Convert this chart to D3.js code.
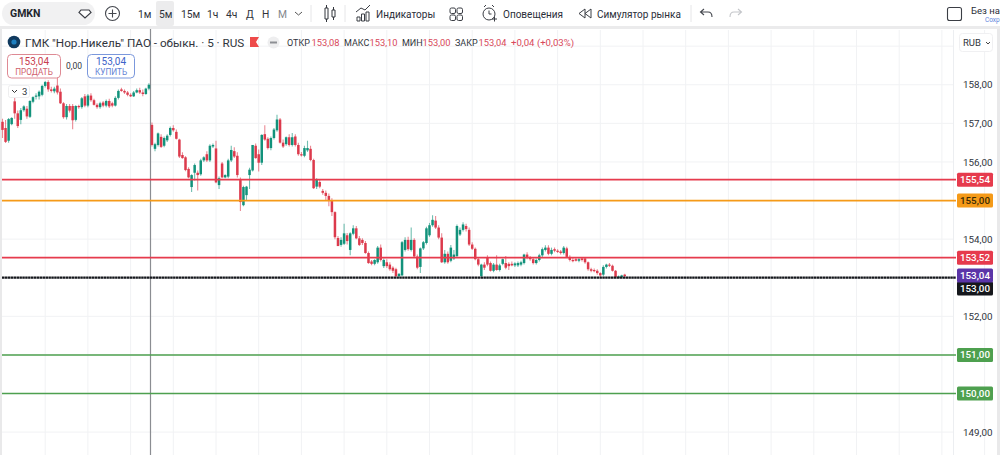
<!DOCTYPE html>
<html lang="ru">
<head>
<meta charset="utf-8">
<title>GMKN</title>
<script src="https://cdn.jsdelivr.net/npm/d3@7/dist/d3.min.js"></script>
<style>
html,body{margin:0;padding:0;background:#fff;overflow:hidden}
svg{display:block}
text{font-family:Roboto,"Open Sans",sans-serif;fill:#2a2e39}
</style>
</head>
<body>
<svg id="chart" width="1000" height="455"></svg>
<script>
// Candles per stretch of the session, each row: open, high, low, close
const candlesMorning = [
[157.04,157.12,156.62,156.83],[156.88,157.09,156.49,156.52],[156.55,157.14,156.50,157.11],[156.98,157.16,156.95,157.14],
[157.57,157.70,157.12,157.26],[157.26,157.33,156.88,156.93],[157.09,157.40,156.98,157.34],[157.34,157.47,157.30,157.44],
[157.38,157.45,157.12,157.18],[157.17,157.60,157.14,157.58],[157.56,157.70,157.52,157.68],[157.70,157.78,157.62,157.72],
[157.70,157.85,157.62,157.82],[157.74,158.00,157.70,157.97],[157.97,158.10,157.93,158.07],[158.07,158.12,157.82,157.88],
[157.88,157.95,157.80,157.84],[157.83,157.95,157.78,157.90],[157.98,158.20,157.75,157.80],[157.82,157.90,157.50,157.52],
[157.52,157.55,157.12,157.16],[157.16,157.50,157.10,157.45],[157.45,157.50,157.28,157.33],[157.45,157.50,156.85,157.08],
[157.09,157.47,157.05,157.45],[157.45,157.48,157.38,157.42],[157.42,157.68,157.38,157.65],[157.70,157.76,157.42,157.46],
[157.46,157.76,157.42,157.72],[157.72,157.78,157.56,157.60],[157.60,157.64,157.46,157.48],[157.48,157.52,157.38,157.42],
[157.42,157.56,157.38,157.52],[157.54,157.58,157.42,157.46],[157.46,157.62,157.42,157.58],[157.58,157.64,157.40,157.44],
[157.52,157.56,157.42,157.46],[157.46,157.70,157.44,157.66],[157.66,157.88,157.62,157.84],[157.88,157.92,157.82,157.84],
[157.84,157.88,157.76,157.80],[157.80,157.84,157.70,157.74],[157.74,157.78,157.68,157.70],[157.70,157.84,157.68,157.80],
[157.80,157.90,157.78,157.86],[157.86,157.92,157.76,157.80],[157.80,157.88,157.70,157.76],[157.76,157.92,157.74,157.90],
[157.90,158.04,157.86,158.00]
];
const candlesMidday = [
[156.96,157.02,156.40,156.44],[156.34,156.50,156.28,156.46],[156.44,156.76,156.40,156.74],[156.65,156.72,156.36,156.39],
[156.42,156.66,156.38,156.62],[156.56,156.72,156.52,156.68],[156.70,156.92,156.66,156.88],[156.88,156.95,156.78,156.82],
[156.78,156.84,156.58,156.60],[156.58,156.60,156.10,156.14],[156.18,156.25,156.08,156.10],[156.12,156.15,155.76,155.79],
[155.82,155.86,155.58,155.60],[155.35,155.68,155.22,155.66],[155.72,155.96,155.52,155.92],[155.72,155.78,155.26,155.66],
[155.68,156.08,155.64,156.04],[156.04,156.15,156.00,156.12],[156.20,156.28,156.00,156.04],[156.04,156.46,156.00,156.42],
[156.40,156.48,156.36,156.44],[156.35,156.55,155.45,155.47],[155.40,155.62,155.30,155.58],[155.96,156.00,155.58,155.60],
[155.60,155.68,155.58,155.66],[155.62,156.08,155.58,156.04],[156.04,156.42,156.00,156.31],[156.28,156.38,156.10,156.14],
[156.16,156.25,155.60,155.66],[155.53,155.60,154.73,154.96],[154.88,155.38,154.85,155.35],[155.14,155.38,155.00,155.36],
[155.66,155.85,155.30,155.80],[155.78,156.44,155.75,156.44],[156.42,156.48,156.08,156.10],[156.20,156.32,155.75,155.98],
[155.98,156.72,155.92,156.70],[156.72,156.95,156.55,156.58],[156.60,156.64,156.32,156.36],[156.36,156.66,156.30,156.62],
[156.62,156.88,156.58,156.84],[156.82,157.22,156.78,157.10],[157.10,157.14,156.48,156.50],[156.50,156.58,156.36,156.40],
[156.46,156.66,156.42,156.64],[156.64,156.72,156.40,156.44],[156.44,156.75,156.40,156.64],[156.66,156.72,156.40,156.44],
[156.44,156.50,156.16,156.20],[156.20,156.26,156.14,156.17],[156.16,156.42,156.12,156.36],[156.30,156.55,156.26,156.36],
[156.34,156.42,156.02,156.05],[156.05,156.08,155.30,155.32]
];
const candlesSelloff = [
[155.36,155.58,155.30,155.54],[155.48,155.56,155.32,155.36],[155.25,155.30,155.15,155.20],[155.20,155.26,155.00,155.12],
[155.12,155.18,154.85,155.00],[155.01,155.06,154.60,154.70],[154.70,154.72,154.00,154.05],[154.03,154.08,153.82,153.82],
[153.85,154.05,153.80,153.98],[153.88,154.40,153.85,154.15],[154.10,154.16,153.86,153.95],[153.72,154.18,153.58,154.15],
[154.14,154.36,154.10,154.28],[154.28,154.34,154.00,154.02],[154.02,154.08,153.82,153.85],[153.98,154.02,153.85,153.90],
[153.90,153.95,153.62,153.64],[153.64,153.68,153.36,153.38],[153.42,153.46,153.32,153.36],[153.36,153.48,153.32,153.46],
[153.40,153.82,153.36,153.78],[153.78,153.86,153.42,153.46],[153.30,153.50,153.25,153.46],[153.40,153.48,153.25,153.30],
[153.34,153.40,153.18,153.22],[153.26,153.30,153.12,153.18],[153.22,153.26,153.02,153.04],[153.04,153.12,153.00,153.10],
[153.06,153.95,153.04,153.92],[153.72,154.05,153.68,153.98],[153.98,154.06,153.70,153.74],[153.72,154.30,153.68,153.98],
[153.98,154.02,153.52,153.55],[153.55,153.60,153.22,153.26],[153.28,153.78,153.12,153.76],[153.76,153.95,153.72,153.92],
[153.90,154.32,153.86,154.28],[154.10,154.42,154.06,154.36],[154.36,154.62,154.32,154.50],[154.48,154.60,154.26,154.30],
[154.30,154.36,154.00,154.04],[154.04,154.15,153.38,153.40],[153.40,153.72,153.36,153.62],[153.62,153.68,153.36,153.40],
[153.44,153.85,153.40,153.78],[153.50,153.72,153.46,153.60],[153.56,154.38,153.52,154.34],[154.12,154.30,154.08,154.24],
[154.24,154.44,154.20,154.38],[154.34,154.40,154.20,154.26],[154.24,154.30,153.82,153.86]
];
const candlesClose = [
[153.86,153.92,153.72,153.75],[153.75,153.78,153.45,153.48],[153.48,153.52,153.30,153.34],[153.04,153.36,153.00,153.34],
[153.34,153.40,153.20,153.26],[153.52,153.58,153.30,153.34],[153.38,153.42,153.16,153.18],[153.18,153.38,153.14,153.34],
[153.34,153.58,153.18,153.20],[153.20,153.36,153.16,153.32],[153.36,153.50,153.32,153.48],[153.38,153.56,153.22,153.26],
[153.36,153.40,153.20,153.30],[153.36,153.42,153.30,153.32],[153.32,153.40,153.28,153.37],[153.32,153.42,153.28,153.38],
[153.34,153.44,153.30,153.40],[153.38,153.62,153.34,153.60],[153.60,153.66,153.48,153.52],[153.52,153.56,153.44,153.48],
[153.48,153.52,153.34,153.38],[153.38,153.50,153.34,153.46],[153.46,153.62,153.42,153.58],[153.58,153.78,153.54,153.74],
[153.72,153.84,153.68,153.78],[153.78,153.84,153.58,153.62],[153.62,153.78,153.58,153.72],[153.74,153.78,153.66,153.70],
[153.70,153.74,153.64,153.68],[153.68,153.72,153.60,153.64],[153.64,153.82,153.60,153.78],[153.76,153.80,153.52,153.54],
[153.54,153.58,153.42,153.46],[153.46,153.52,153.40,153.44],[153.48,153.52,153.42,153.44],[153.44,153.52,153.40,153.48],
[153.50,153.54,153.42,153.46],[153.50,153.54,153.36,153.40],[153.40,153.42,153.18,153.22],[153.22,153.26,153.14,153.18],
[153.20,153.24,153.14,153.17],[153.18,153.22,153.08,153.12],[153.12,153.14,153.02,153.06],[153.08,153.32,153.04,153.28],
[153.28,153.36,153.24,153.34],[153.34,153.38,153.28,153.31],[153.31,153.34,153.16,153.18],[153.18,153.20,153.00,153.02],
[153.02,153.06,153.00,153.03],[153.02,153.08,153.00,153.06],[153.08,153.10,153.00,153.04]
];

const axisPrices = [158, 157, 156, 154, 152, 149];
const levelValues = [155.54, 155, 153.52, 153, 151, 150];
const levelColors = ["#e63b4d", "#f59a18", "#e63b4d", "#15171c", "#4ea04f", "#4ea04f"];
const lastPrice = 153.04;
const intervals = ["1м", "5м", "15м", "1ч", "4ч", "Д", "Н", "М"];
const ohlcNames = ["ОТКР", "МАКС", "МИН", "ЗАКР"];
const ohlcValues = [153.08, 153.10, 153.00, 153.04];

const RED = "#dc3a4c", GREEN = "#12927b", GRID = "#f1f2f4";
const ruLocale = d3.formatLocale({decimal: ",", thousands: " ", grouping: [3], currency: ["", " ₽"]});
const fmt = ruLocale.format(".2f");

const candles = [...candlesMorning, ...candlesMidday, ...candlesSelloff, ...candlesClose]
  .map(([open, high, low, close], i) => ({i, open, high, low, close}));

const svg = d3.select("#chart");
const x = d3.scaleLinear().domain([0, candles.length - 1]).range([2.5, 624.7]);
const y = d3.scaleLinear().domain([150, 155.54]).range([393.5, 179.7]);

// Pane background and grid
const pane = svg.append("g");
const gridIdx = d3.range(14, 330, 14);
pane.selectAll("line.v").data(gridIdx).join("line")
  .attr("x1", d => x(d)).attr("x2", d => x(d)).attr("y1", 30).attr("y2", 455)
  .attr("stroke", GRID);
pane.selectAll("line.h").data([159, ...d3.range(158, 148, -1)]).join("line")
  .attr("x1", 2).attr("x2", 953).attr("y1", d => y(d)).attr("y2", d => y(d))
  .attr("stroke", GRID);
pane.append("line").attr("x1", 953.5).attr("x2", 953.5).attr("y1", 30).attr("y2", 455).attr("stroke", "#eceef1");
pane.append("rect").attr("x", 0).attr("y", 28).attr("width", 2).attr("height", 427).attr("fill", "#e9e9ea");
pane.append("rect").attr("x", 997).attr("y", 28).attr("width", 3).attr("height", 427).attr("fill", "#e9e9ea");
pane.append("rect").attr("x", 0).attr("y", 26).attr("width", 1000).attr("height", 3).attr("fill", "#ebebec");

// Session divider
svg.append("line").attr("x1", 150.5).attr("x2", 150.5).attr("y1", 29).attr("y2", 455)
  .attr("stroke", "#8b8d92").attr("stroke-width", 1.2);

// Candles
const cg = svg.append("g").selectAll("g").data(candles).join("g")
  .attr("fill", d => d.close >= d.open ? GREEN : RED)
  .attr("stroke", d => d.close >= d.open ? GREEN : RED);
cg.append("line")
  .attr("x1", d => x(d.i)).attr("x2", d => x(d.i))
  .attr("y1", d => y(d.high)).attr("y2", d => y(d.low))
  .attr("stroke-opacity", .6).attr("stroke-width", 1.1);
cg.append("rect")
  .attr("x", d => x(d.i) - 1.25).attr("width", 2.5)
  .attr("y", d => y(Math.max(d.open, d.close)))
  .attr("height", d => Math.max(1.2, Math.abs(y(d.open) - y(d.close))))
  .attr("stroke", "none");

// Horizontal price levels
svg.append("g").selectAll("line").data(levelValues).join("line")
  .attr("x1", 2).attr("x2", 956)
  .attr("y1", d => y(d)).attr("y2", d => y(d))
  .attr("stroke", (d, i) => levelColors[i])
  .attr("stroke-width", d => d === 153 ? 2.2 : d < 152 ? 1.5 : 1.8)
  .attr("stroke-dasharray", d => d === 153 ? "2.5 0.4" : null);

// Price axis
const axisG = svg.append("g").attr("transform", "translate(959,0)")
  .call(d3.axisRight(y).tickValues(axisPrices).tickSize(0).tickPadding(4).tickFormat(fmt));
axisG.select(".domain").remove();
axisG.selectAll("text").attr("font-size", 9.8).style("fill", "#30343d");

// Level tags on the axis
const tagData = levelValues.map((v, i) => ({v, fill: levelColors[i], ty: y(v), tc: i === 1 ? "#3a2a05" : "#fff"}));
tagData.push({v: lastPrice, fill: "#5b35a8", ty: 275.5, tc: "#fff"});
tagData.forEach(t => { if (t.v === 153) t.ty = 288.5; });
const tags = svg.append("g").selectAll("g").data(tagData).join("g")
  .attr("transform", d => `translate(957,${d.ty - 7})`);
tags.append("rect").attr("width", 36).attr("height", 14).attr("rx", 1.5).attr("fill", d => d.fill);
tags.append("text").attr("x", 18).attr("y", 10.5).attr("text-anchor", "middle")
  .attr("font-size", 9.8).attr("font-weight", 500).style("fill", d => d.tc).text(d => fmt(d.v));

// Top toolbar
const bar = svg.append("g");
function label(g, tx, ty, s, size, color, extra) {
  const t = g.append("text").attr("x", tx).attr("y", ty).attr("font-size", size).style("fill", color || "#2a2e39").text(s);
  if (extra) Object.entries(extra).forEach(([k, v]) => t.attr(k, v));
  return t;
}
bar.append("rect").attr("x", 2).attr("y", 2).attr("width", 93).attr("height", 23).attr("rx", 11.5).attr("fill", "#f1f1f2");
label(bar, 10, 17, "GMKN", 10.5, "#22252c", {"font-weight": 700});
bar.append("path").attr("d", "M81 10h8l2 2.500-6 5.500-6-5.500z").attr("fill", "#fff").attr("stroke", "#3a3d44").attr("stroke-width", 1.2);
bar.append("circle").attr("cx", 112.5).attr("cy", 13.5).attr("r", 7).attr("fill", "none").attr("stroke", "#44474e").attr("stroke-width", 1.1);
bar.append("path").attr("d", "M108.5 13.5h8M112.5 9.5v8").attr("stroke", "#44474e").attr("stroke-width", 1.1);
bar.append("rect").attr("x", 156).attr("y", 1).attr("width", 18).attr("height", 25).attr("rx", 2).attr("fill", "#ececed");
const ivX = [138, 159, 181, 207, 226, 246, 262, 278];
intervals.forEach((s, i) => label(bar, ivX[i], 18, s, 10.3, i === 7 ? "#83868c" : "#2f333b"));
bar.append("path").attr("d", "M295 12l3.5 3 3.5-3").attr("fill", "none").attr("stroke", "#555").attr("stroke-width", 1);
[[311], [345], [691]].forEach(([sx]) => bar.append("line").attr("x1", sx).attr("x2", sx).attr("y1", 5).attr("y2", 22).attr("stroke", "#e6e6e8"));
// Candle type icon
bar.append("path").attr("d", "M325 8h3v11h-3zM326.500 5v3M326.500 19v3M332 10h3v7h-3zM333.500 7v3M333.500 17v3")
  .attr("fill", "none").attr("stroke", "#33363d").attr("stroke-width", 1);
// Indicators icon
bar.append("path").attr("d", "M357 21v-4h3v4zM361.500 21v-7h3v7zM366 21v-9h3v9zM356 12l5-4 4 2 5-5")
  .attr("fill", "none").attr("stroke", "#3b3e45").attr("stroke-width", 1);
label(bar, 376, 18, "Индикаторы", 10);
// Layout icon
[[450, 8], [457, 8], [450, 15], [457, 15]].forEach(([a, b]) =>
  bar.append("rect").attr("x", a).attr("y", b).attr("width", 5.5).attr("height", 5.5).attr("rx", 1.5)
    .attr("fill", "none").attr("stroke", "#3b3e45"));
// Alerts icon
bar.append("circle").attr("cx", 489).attr("cy", 14).attr("r", 6).attr("fill", "none").attr("stroke", "#3b3e45");
bar.append("path").attr("d", "M489 10.500v3.500h2.500M484 7l2-2M494 7l-2-2M492 19h5M494.500 16.500v5").attr("fill", "none").attr("stroke", "#3b3e45");
label(bar, 503, 18, "Оповещения", 10);
// Replay icon
bar.append("path").attr("d", "M585 9l-6 4.500 6 4.500zM591 9l-6 4.500 6 4.500z").attr("fill", "none").attr("stroke", "#3b3e45");
label(bar, 597, 18, "Симулятор рынка", 10);
bar.append("path").attr("d", "M704 9l-3.500 3 3.500 3M701 12h7c3 0 4 2 4 5").attr("fill", "none").attr("stroke", "#44474e").attr("stroke-width", 1.1);
bar.append("path").attr("d", "M738 9l3.500 3-3.500 3M741 12h-7c-3 0-4 2-4 5").attr("fill", "none").attr("stroke", "#c4c6ca").attr("stroke-width", 1.1);
bar.append("rect").attr("x", 947.500).attr("y", 7.500).attr("width", 14).attr("height", 13).attr("rx", 2)
  .attr("fill", "none").attr("stroke", "#3b3e45").attr("stroke-width", 1.1);
label(bar, 971, 14, "Без на", 9.5);
label(bar, 985, 22, "Сохр", 6.5, "#5f86dd");

// Instrument legend row
const leg = svg.append("g");
leg.append("circle").attr("cx", 14).attr("cy", 42).attr("r", 6.3).attr("fill", "#103a5e");
leg.append("circle").attr("cx", 14).attr("cy", 42).attr("r", 2.6).attr("fill", "#1d7fc0");
label(leg, 25, 46.5, "ГМК \"Нор.Никель\" ПАО - обыкн. · 5 · RUS", 11.7, "#30343c");
leg.append("path").attr("d", "M250 37h9l-3 5 3 5h-9z").attr("fill", "#ee4a4a");
leg.append("circle").attr("cx", 273.500).attr("cy", 42.500).attr("r", 6).attr("fill", "#eeeeef");
leg.append("rect").attr("x", 270).attr("y", 41.500).attr("width", 7).attr("height", 2).attr("fill", "#8d8f94");
const nameX = [287, 344, 402, 455], valX = [311.500, 369.500, 422.500, 478.500];
ohlcNames.forEach((s, i) => {
  label(leg, nameX[i], 46, s, 9, "#30343c");
  label(leg, valX[i], 46, fmt(ohlcValues[i]), 9.3, "#d8485a");
});
label(leg, 511, 46, "+0,04 (+0,03%)", 9.6, "#d8485a");

// Currency selector
svg.append("rect").attr("x", 959.500).attr("y", 33.500).attr("width", 33).attr("height", 18).attr("rx", 3).attr("fill", "#fff").attr("stroke", "#f0f0f2");
label(svg, 963, 46, "RUB", 9.5, "#30343c");
svg.append("path").attr("d", "M986 42l2 2 2-2").attr("fill", "none").attr("stroke", "#444");

// Trade buttons
const trade = svg.append("g");
trade.append("rect").attr("x", 7.500).attr("y", 54.500).attr("width", 53).attr("height", 23.500).attr("rx", 4).attr("fill", "#fff").attr("stroke", "#de8a94");
label(trade, 34, 64.500, "153,04", 10, "#c8404f", {"text-anchor": "middle"});
label(trade, 34, 75, "ПРОДАТЬ", 8.2, "#d0606c", {"text-anchor": "middle"});
label(trade, 74, 68.500, "0,00", 8.5, "#33363d", {"text-anchor": "middle"});
trade.append("rect").attr("x", 87.500).attr("y", 54.500).attr("width", 47).attr("height", 23.500).attr("rx", 4).attr("fill", "#fff").attr("stroke", "#7b98dc");
label(trade, 111, 64.500, "153,04", 10, "#3d63c8", {"text-anchor": "middle"});
label(trade, 111, 75, "КУПИТЬ", 8.2, "#5f7fd4", {"text-anchor": "middle"});

// Collapsed indicators chip
const chip = svg.append("g");
chip.append("rect").attr("x", 8.500).attr("y", 85.500).attr("width", 21).attr("height", 12).attr("rx", 2).attr("fill", "#fff").attr("stroke", "#eeeeef");
chip.append("path").attr("d", "M12 90l2.500 2.500 2.500-2.500").attr("fill", "none").attr("stroke", "#333").attr("stroke-width", 1);
label(chip, 22, 95, "3", 9.5, "#30343c");
</script>
</body>
</html>
